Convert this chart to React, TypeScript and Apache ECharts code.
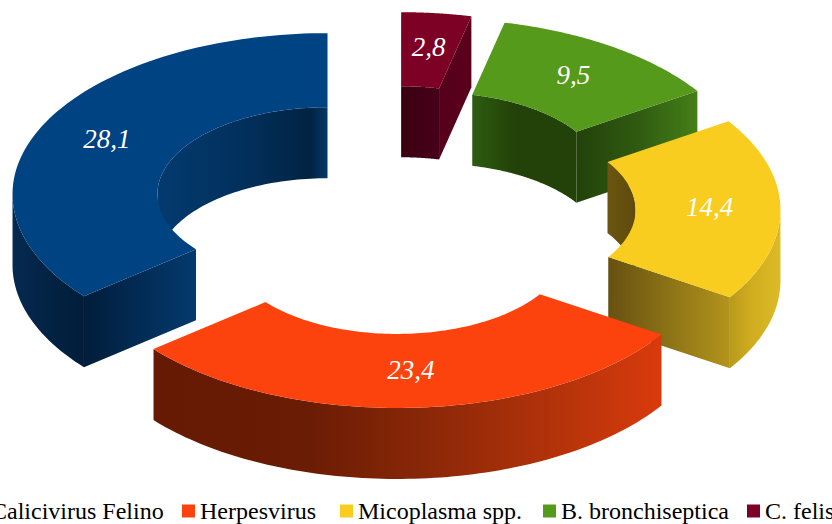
import React, { useEffect, useRef } from "react";
import * as echarts from "echarts";

const categories = ["Calicivirus Felino", "Herpesvirus", "Micoplasma spp.", "B. bronchiseptica", "C. felis"];
const values = [28.1, 23.4, 14.4, 9.5, 2.8];
const topColors = ["#004382", "#fc430e", "#f8cd20", "#559a1b", "#7d0025"];
const legendLefts = [-27, 182, 340, 543, 747];

type Stops = [number, string][];
const outerStops: Stops[] = [
  [[0, "#05294f"], [1, "#011d3a"]],
  [[0, "#661a03"], [0.3, "#6a1c04"], [0.55, "#8c2808"], [0.8, "#b5330a"], [1, "#d93a0c"]],
  [[0, "#b99a1c"], [0.4, "#cfab1e"], [1, "#dcbb26"]],
  [[0, "#457f18"], [1, "#457f18"]],
  [[0, "#5a001c"], [1, "#5a001c"]],
];
const innerStops: Stops[] = [
  [[0, "#033a6f"], [0.5, "#02305c"], [0.9, "#012343"], [1, "#033a68"]],
  [[0, "#661a03"], [1, "#661a03"]],
  [[0, "#6b5510"], [1, "#5f4a0c"]],
  [[0, "#2d5c10"], [0.4, "#234209"], [1, "#234209"]],
  [[0, "#3a0012"], [1, "#48001a"]],
];
const faceStops: Stops[] = [
  [[0, "#011d3a"], [1, "#033a6e"]],
  [[0, "#661a03"], [1, "#661a03"]],
  [[0, "#665110"], [1, "#b3941c"]],
  [[0, "#234209"], [0.5, "#2f5a10"], [1, "#457f18"]],
  [[0, "#55001c"], [1, "#5a001c"]],
];

const CX = 393;
const CY = 210;
const RX = 315;
const RY = 161;
const HOLE = 0.54;
const EXPLODE = 0.23;
const DEPTH = 71;
const LABEL_R = 0.775;

const total = values.reduce((a, b) => a + b, 0);
const sweep = (i: number) => (values[i] / total) * Math.PI * 2;
const startAngle = (i: number) => values.slice(0, i).reduce((a, b) => a + (b / total) * Math.PI * 2, 0);

function renderSlice(index: number) {
  return (_params: any, api: any) => {
    const t1 = startAngle(index);
    const t2 = t1 + (api.value(0) / total) * Math.PI * 2;
    const mid = (t1 + t2) / 2;
    const ox = CX - Math.sin(mid) * EXPLODE * RX;
    const oy = CY - Math.cos(mid) * EXPLODE * RY;
    const pt = (t: number, r: number): number[] => [ox - Math.sin(t) * r * RX, oy - Math.cos(t) * r * RY];
    const n = 90;
    const outer: number[][] = [];
    const inner: number[][] = [];
    for (let k = 0; k <= n; k++) {
      outer.push(pt(t2 - ((t2 - t1) * k) / n, 1));
      inner.push(pt(t1 + ((t2 - t1) * k) / n, HOLE));
    }
    const children: any[] = [];
    const wall = (path: number[][], stops: Stops, z2: number) => {
      let run: number[][] = [];
      const flush = () => {
        if (run.length > 1) {
          const lower = run.map((p) => [p[0], p[1] + DEPTH]).reverse();
          children.push({
            type: "polygon",
            z2,
            shape: { points: run.concat(lower) },
            style: {
              fill: new echarts.graphic.LinearGradient(0, 0, 1, 0, stops.map(([offset, color]) => ({ offset, color }))),
            },
          });
        }
        run = [];
      };
      for (let k = 0; k < path.length - 1; k++) {
        if (path[k + 1][0] - path[k][0] < 0) {
          if (!run.length) run.push(path[k]);
          run.push(path[k + 1]);
        } else flush();
      }
      flush();
    };
    wall(inner, innerStops[index], 1);
    wall([outer[n], inner[0]], faceStops[index], 2);
    wall([inner[n], outer[0]], faceStops[index], 2);
    wall(outer, outerStops[index], 3);
    children.push({
      type: "polygon",
      z2: 4,
      shape: { points: outer.concat(inner) },
      style: { fill: topColors[index] },
    });
    const lp = pt(mid, LABEL_R);
    children.push({
      type: "text",
      z2: 5,
      x: lp[0],
      y: lp[1] - 2,
      style: {
        text: String(api.value(0)).replace(".", ","),
        fill: "#ffffff",
        font: 'italic 27px "Liberation Serif"',
        align: "center",
        verticalAlign: "middle",
      },
    });
    return { type: "group", children };
  };
}

export default function App() {
  const ref = useRef<HTMLDivElement>(null);
  useEffect(() => {
    document.body.style.margin = "0";
    const chart = echarts.init(ref.current!, undefined, { renderer: "svg" });
    chart.setOption({
      animation: false,
      backgroundColor: "#ffffff",
      legend: categories.map((name, i) => ({
        data: [name],
        left: legendLefts[i],
        top: 499,
        padding: 0,
        icon: "rect",
        itemWidth: 13,
        itemHeight: 13,
        textStyle: { fontFamily: "Liberation Serif", fontSize: 24, color: "#000000", padding: [0, 0, 6, 0] },
      })),
      series: categories.map((name, i) => ({
        type: "custom",
        name,
        coordinateSystem: "none",
        z: 2 + Math.round((1 - Math.cos(startAngle(i) + sweep(i) / 2)) * 10),
        itemStyle: { color: topColors[i] },
        renderItem: renderSlice(i),
        data: [[values[i]]],
      })),
    });
    return () => chart.dispose();
  }, []);
  return <div ref={ref} style={{ width: 832, height: 524, position: "absolute", left: 0, top: 0, overflow: "hidden" }} />;
}
